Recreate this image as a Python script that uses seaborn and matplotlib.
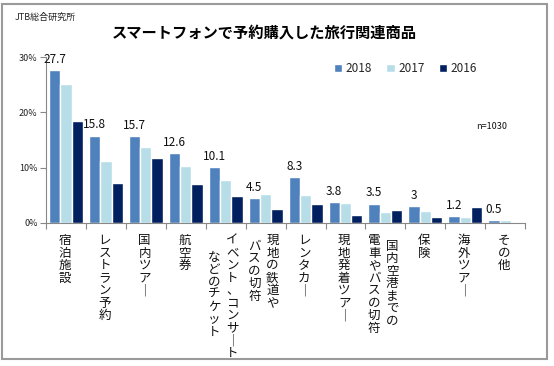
import matplotlib
matplotlib.use('Agg')
import matplotlib.pyplot as plt
import matplotlib.transforms as mtransforms
from matplotlib.patches import Rectangle
from matplotlib.ticker import PercentFormatter
import seaborn as sns
import pandas as pd
import numpy as np

# categories: "\n" separates vertical columns (first column is drawn rightmost)
categories = ['宿泊施設', 'レストラン予約', '国内ツアー', '航空券',
              'イベント、コンサート\nなどのチケット', '現地の鉄道や\nバスの切符',
              'レンタカー', '現地発着ツアー', '国内空港までの\n電車やバスの切符',
              '保険', '海外ツアー', 'その他']
years = ['2018', '2017', '2016']
share_2018 = [27.7, 15.8, 15.7, 12.6, 10.1, 4.5, 8.3, 3.8, 3.5, 3.0, 1.2, 0.5]
share_2017 = [25.2, 11.2, 13.8, 10.3, 7.7, 5.3, 5.1, 3.6, 2.0, 2.1, 1.1, 0.6]
share_2016 = [18.5, 7.3, 11.8, 7.0, 4.9, 2.6, 3.4, 1.4, 2.3, 1.1, 2.8, 0.0]
colors = ['#4F81BD', '#B7DEE8', '#002060']

df = pd.DataFrame({
    'category': categories * 3,
    'year': np.repeat(years, len(categories)),
    'share': share_2018 + share_2017 + share_2016,
})

sns.set_theme(style='white')
plt.rcParams['font.family'] = ['Noto Sans CJK JP', 'DejaVu Sans']

fig = plt.figure(figsize=(5.54, 3.66), dpi=100)
ax = fig.add_axes([0.083, 0.391, 0.865, 0.453])

sns.barplot(data=df, x='category', y='share', hue='year', hue_order=years,
            order=categories, palette=colors, width=0.85, gap=0,
            saturation=1, ax=ax)

# value labels over the 2018 bars
for bar, v in zip(ax.containers[0], share_2018):
    ax.annotate(f'{v:g}', (bar.get_x() + bar.get_width() / 2, bar.get_height()),
                xytext=(0, 3), textcoords='offset points',
                ha='center', va='bottom', fontsize=8.5, color='#111111')

ax.set_ylim(0, 30)
ax.set_yticks([0, 10, 20, 30])
ax.yaxis.set_major_formatter(PercentFormatter(100, decimals=0))
ax.set_xlim(-0.5, len(categories) - 0.5)
ax.set_xticks(np.arange(len(categories) + 1) - 0.5)
ax.set_xticklabels([])
ax.set_xlabel('')
ax.set_ylabel('')
ax.tick_params(axis='both', direction='out', length=4, width=0.8,
               color='#888888', labelsize=6.5, labelcolor='#222222', pad=2)
ax.tick_params(axis='x', bottom=True)
ax.tick_params(axis='y', left=True)
for s in ['top', 'right']:
    ax.spines[s].set_visible(False)
for s in ['left', 'bottom']:
    ax.spines[s].set_color('#888888')
    ax.spines[s].set_linewidth(0.8)

# vertical category labels
trans = mtransforms.blended_transform_factory(ax.transData, ax.transAxes)
pitch = 11.0
for i, name in enumerate(categories):
    cols = name.split('\n')
    longest = max(len(c) for c in cols)
    if len(cols) == 1:
        offsets = [-0.03]
    else:
        offsets = [0.17, -0.28]
    for col, dx in zip(cols, offsets):
        txt = '\n'.join(col.replace('ー', '｜'))
        shift = (longest - len(col)) / 2 * pitch * 0.72
        ax.annotate(txt, (i + dx, 0), xycoords=trans,
                    xytext=(0, -8 - shift), textcoords='offset points',
                    ha='center', va='top', fontsize=9, linespacing=0.95,
                    color='#111111')

leg = ax.legend(ncol=3, frameon=False, loc='center', bbox_to_anchor=(0.75, 0.93),
                handlelength=0.7, handleheight=0.7, handletextpad=0.3,
                columnspacing=1.2, fontsize=8.5)

ax.text(0.93, 0.58, 'n=1030', transform=ax.transAxes, ha='center', va='center',
        fontsize=6.5, color='#111111')

fig.text(0.027, 0.953, 'JTB総合研究所', ha='left', va='center', fontsize=6.5,
         color='#222222')
fig.text(0.478, 0.91, 'スマートフォンで予約購入した旅行関連商品', ha='center',
         va='center', fontsize=11, fontweight='bold', color='#000000')

fig.patches.append(Rectangle((0.003, 0.018), 0.984, 0.97, transform=fig.transFigure,
                             fill=False, edgecolor='#9a9a9a', linewidth=1.5))

fig.savefig('out.png', dpi=100)
